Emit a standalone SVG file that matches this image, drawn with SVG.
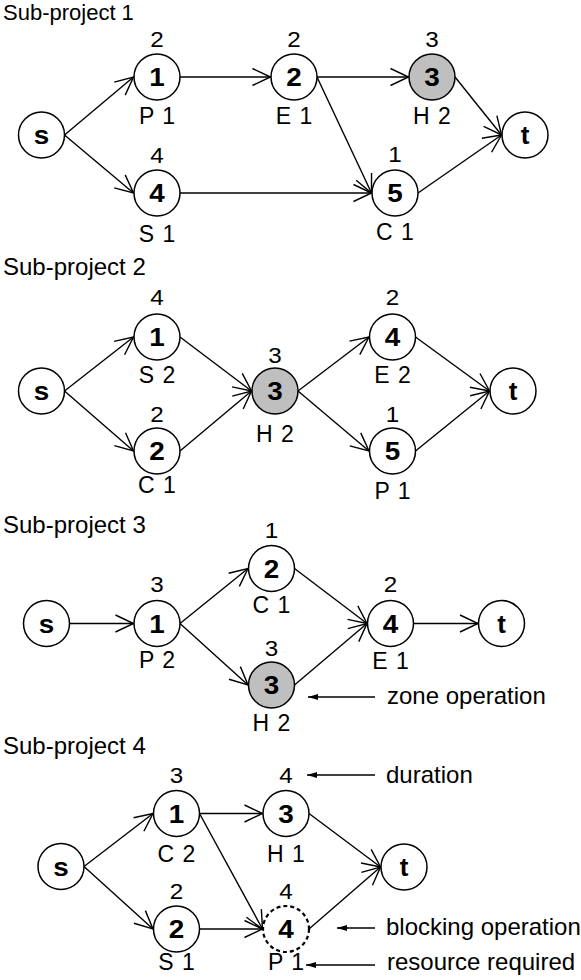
<svg xmlns="http://www.w3.org/2000/svg" width="581" height="980" viewBox="0 0 581 980">
<style>
text{font-family:"Liberation Sans",Arial,sans-serif;fill:#000}
.title{font-size:24px}
.t1{font-size:22px}
.num{font-size:26px;font-weight:bold;text-anchor:middle}
.dur{font-size:22px;text-anchor:middle}
.lab{font-size:23px;text-anchor:middle;word-spacing:2px}
.ann{font-size:24px}
circle{fill:#fff;stroke:#000;stroke-width:1.5}
circle.zone{fill:#bfbfbf}
circle.block{stroke-dasharray:4 3;stroke-width:2.2}
.edges line{stroke:#000;stroke-width:1.4;fill:none;marker-end:url(#open)}
.ann-arrows line{stroke:#000;stroke-width:1.4;marker-end:url(#solid)}
</style>
<defs>
<marker id="open" markerUnits="userSpaceOnUse" viewBox="-20 -12 24 24" markerWidth="24" markerHeight="24" refX="0" refY="0" orient="auto">
<path d="M-18,-8.5 L0,0 L-18,8.5" fill="none" stroke="#000" stroke-width="1.4"/>
</marker>
<marker id="solid" markerUnits="userSpaceOnUse" viewBox="-12 -5 14 10" markerWidth="14" markerHeight="10" refX="0" refY="0" orient="auto">
<path d="M-10,-3 L0,0 L-10,3 Z" fill="#000"/>
</marker>
</defs>

<text class="t1" x="3" y="20">Sub-project 1</text>
<text class="title" x="3" y="275">Sub-project 2</text>
<text class="title" x="3" y="533">Sub-project 3</text>
<text class="title" x="3" y="754">Sub-project 4</text>

<g class="edges">
<!-- SP1 -->
<line x1="64.5" y1="135" x2="133.5" y2="77"/>
<line x1="64.5" y1="135" x2="133.5" y2="193"/>
<line x1="180" y1="77" x2="270.5" y2="77"/>
<line x1="317" y1="77" x2="408.5" y2="77"/>
<line x1="317" y1="77" x2="371.5" y2="193"/>
<line x1="180" y1="193" x2="371.5" y2="193"/>
<line x1="455" y1="77" x2="501.5" y2="135"/>
<line x1="418" y1="193" x2="501.5" y2="135"/>
<!-- SP2 -->
<line x1="64.5" y1="391" x2="133.5" y2="337"/>
<line x1="64.5" y1="391" x2="133.5" y2="451"/>
<line x1="180" y1="337" x2="251.5" y2="391"/>
<line x1="180" y1="451" x2="251.5" y2="391"/>
<line x1="298" y1="391" x2="369" y2="337"/>
<line x1="298" y1="391" x2="369" y2="451"/>
<line x1="415.5" y1="337" x2="489.5" y2="391"/>
<line x1="415.5" y1="451" x2="489.5" y2="391"/>
<!-- SP3 -->
<line x1="69.5" y1="623.5" x2="133.5" y2="623.5"/>
<line x1="180" y1="623.5" x2="248" y2="568.5"/>
<line x1="180" y1="623.5" x2="248" y2="685"/>
<line x1="294.5" y1="568.5" x2="367" y2="623.5"/>
<line x1="294.5" y1="685" x2="367" y2="623.5"/>
<line x1="413.5" y1="623.5" x2="478" y2="623.5"/>
<!-- SP4 -->
<line x1="84" y1="866.5" x2="153" y2="813.5"/>
<line x1="84" y1="866.5" x2="153" y2="929"/>
<line x1="199.5" y1="813.5" x2="262.5" y2="813.5"/>
<line x1="199.5" y1="813.5" x2="262.5" y2="929"/>
<line x1="199.5" y1="929" x2="262.5" y2="929"/>
<line x1="309" y1="813.5" x2="380.5" y2="867"/>
<line x1="309" y1="929" x2="380.5" y2="867"/>
</g>

<g class="ann-arrows">
<line x1="375" y1="697" x2="308" y2="697"/>
<line x1="375" y1="775" x2="307" y2="775"/>
<line x1="375" y1="928" x2="337" y2="928"/>
<line x1="375" y1="965" x2="306" y2="965"/>
</g>

<!-- Sub-project 1 nodes -->
<g id="sp1-s"><circle cx="41.5" cy="135" r="23"/><text class="num" x="41.5" y="144" textLength="15.5" lengthAdjust="spacingAndGlyphs">s</text></g>
<g id="sp1-n1"><circle cx="157" cy="77" r="23"/><text class="num" x="157" y="86" textLength="15.5" lengthAdjust="spacingAndGlyphs">1</text><text class="dur" x="157" y="47" textLength="13.5" lengthAdjust="spacingAndGlyphs">2</text><text class="lab" x="157" y="124">P 1</text></g>
<g id="sp1-n2"><circle cx="294" cy="77" r="23"/><text class="num" x="294" y="86" textLength="15.5" lengthAdjust="spacingAndGlyphs">2</text><text class="dur" x="294" y="47" textLength="13.5" lengthAdjust="spacingAndGlyphs">2</text><text class="lab" x="294" y="124">E 1</text></g>
<g id="sp1-n3"><circle class="zone" cx="432" cy="77" r="23"/><text class="num" x="432" y="86" textLength="15.5" lengthAdjust="spacingAndGlyphs">3</text><text class="dur" x="432" y="47" textLength="13.5" lengthAdjust="spacingAndGlyphs">3</text><text class="lab" x="432" y="124">H 2</text></g>
<g id="sp1-n4"><circle cx="157" cy="193" r="23"/><text class="num" x="157" y="202" textLength="15.5" lengthAdjust="spacingAndGlyphs">4</text><text class="dur" x="157" y="163" textLength="13.5" lengthAdjust="spacingAndGlyphs">4</text><text class="lab" x="157" y="242">S 1</text></g>
<g id="sp1-n5"><circle cx="395" cy="193" r="23"/><text class="num" x="395" y="202" textLength="15.5" lengthAdjust="spacingAndGlyphs">5</text><text class="dur" x="395" y="162" textLength="13.5" lengthAdjust="spacingAndGlyphs">1</text><text class="lab" x="395" y="240">C 1</text></g>
<g id="sp1-t"><circle cx="525" cy="135" r="23"/><text class="num" x="525" y="144">t</text></g>

<!-- Sub-project 2 nodes -->
<g id="sp2-s"><circle cx="41.5" cy="391" r="23"/><text class="num" x="41.5" y="400" textLength="15.5" lengthAdjust="spacingAndGlyphs">s</text></g>
<g id="sp2-n1"><circle cx="157" cy="337" r="23"/><text class="num" x="157" y="346" textLength="15.5" lengthAdjust="spacingAndGlyphs">1</text><text class="dur" x="157" y="305" textLength="13.5" lengthAdjust="spacingAndGlyphs">4</text><text class="lab" x="157" y="383">S 2</text></g>
<g id="sp2-n2"><circle cx="157" cy="451" r="23"/><text class="num" x="157" y="460" textLength="15.5" lengthAdjust="spacingAndGlyphs">2</text><text class="dur" x="157" y="422" textLength="13.5" lengthAdjust="spacingAndGlyphs">2</text><text class="lab" x="157" y="493">C 1</text></g>
<g id="sp2-n3"><circle class="zone" cx="275" cy="391" r="23"/><text class="num" x="275" y="400" textLength="15.5" lengthAdjust="spacingAndGlyphs">3</text><text class="dur" x="275" y="363" textLength="13.5" lengthAdjust="spacingAndGlyphs">3</text><text class="lab" x="275" y="442">H 2</text></g>
<g id="sp2-n4"><circle cx="392.5" cy="337" r="23"/><text class="num" x="392.5" y="346" textLength="15.5" lengthAdjust="spacingAndGlyphs">4</text><text class="dur" x="392.5" y="305" textLength="13.5" lengthAdjust="spacingAndGlyphs">2</text><text class="lab" x="392.5" y="383">E 2</text></g>
<g id="sp2-n5"><circle cx="392.5" cy="451" r="23"/><text class="num" x="392.5" y="460" textLength="15.5" lengthAdjust="spacingAndGlyphs">5</text><text class="dur" x="392.5" y="422" textLength="13.5" lengthAdjust="spacingAndGlyphs">1</text><text class="lab" x="392.5" y="499">P 1</text></g>
<g id="sp2-t"><circle cx="513" cy="391" r="23"/><text class="num" x="513" y="400">t</text></g>

<!-- Sub-project 3 nodes -->
<g id="sp3-s"><circle cx="46.5" cy="623.5" r="23"/><text class="num" x="46.5" y="632.5" textLength="15.5" lengthAdjust="spacingAndGlyphs">s</text></g>
<g id="sp3-n1"><circle cx="157" cy="623.5" r="23"/><text class="num" x="157" y="632.5" textLength="15.5" lengthAdjust="spacingAndGlyphs">1</text><text class="dur" x="157" y="592" textLength="13.5" lengthAdjust="spacingAndGlyphs">3</text><text class="lab" x="157" y="668">P 2</text></g>
<g id="sp3-n2"><circle cx="271.5" cy="568.5" r="23"/><text class="num" x="271.5" y="577.5" textLength="15.5" lengthAdjust="spacingAndGlyphs">2</text><text class="dur" x="271.5" y="538" textLength="13.5" lengthAdjust="spacingAndGlyphs">1</text><text class="lab" x="271.5" y="613">C 1</text></g>
<g id="sp3-n3"><circle class="zone" cx="271.5" cy="685" r="23"/><text class="num" x="271.5" y="694" textLength="15.5" lengthAdjust="spacingAndGlyphs">3</text><text class="dur" x="271.5" y="656" textLength="13.5" lengthAdjust="spacingAndGlyphs">3</text><text class="lab" x="271.5" y="731">H 2</text></g>
<g id="sp3-n4"><circle cx="390.5" cy="623.5" r="23"/><text class="num" x="390.5" y="632.5" textLength="15.5" lengthAdjust="spacingAndGlyphs">4</text><text class="dur" x="390.5" y="592" textLength="13.5" lengthAdjust="spacingAndGlyphs">2</text><text class="lab" x="390.5" y="669">E 1</text></g>
<g id="sp3-t"><circle cx="501.5" cy="623.5" r="23"/><text class="num" x="501.5" y="632.5">t</text></g>
<text class="ann" x="387" y="704">zone operation</text>

<!-- Sub-project 4 nodes -->
<g id="sp4-s"><circle cx="61" cy="866.5" r="23"/><text class="num" x="61" y="875.5" textLength="15.5" lengthAdjust="spacingAndGlyphs">s</text></g>
<g id="sp4-n1"><circle cx="176.5" cy="813.5" r="23"/><text class="num" x="176.5" y="822.5" textLength="15.5" lengthAdjust="spacingAndGlyphs">1</text><text class="dur" x="176.5" y="783" textLength="13.5" lengthAdjust="spacingAndGlyphs">3</text><text class="lab" x="176.5" y="862">C 2</text></g>
<g id="sp4-n2"><circle cx="176.5" cy="929" r="23"/><text class="num" x="176.5" y="938" textLength="15.5" lengthAdjust="spacingAndGlyphs">2</text><text class="dur" x="176.5" y="899" textLength="13.5" lengthAdjust="spacingAndGlyphs">2</text><text class="lab" x="176.5" y="970">S 1</text></g>
<g id="sp4-n3"><circle cx="286" cy="813.5" r="23"/><text class="num" x="286" y="822.5" textLength="15.5" lengthAdjust="spacingAndGlyphs">3</text><text class="dur" x="286" y="783" textLength="13.5" lengthAdjust="spacingAndGlyphs">4</text><text class="lab" x="286" y="862">H 1</text></g>
<g id="sp4-n4"><circle class="block" cx="286" cy="929" r="23"/><text class="num" x="286" y="938" textLength="15.5" lengthAdjust="spacingAndGlyphs">4</text><text class="dur" x="286" y="899" textLength="13.5" lengthAdjust="spacingAndGlyphs">4</text><text class="lab" x="286" y="970">P 1</text></g>
<g id="sp4-t"><circle cx="404" cy="867" r="23"/><text class="num" x="404" y="876">t</text></g>
<text class="ann" x="386" y="783">duration</text>
<text class="ann" x="386" y="935">blocking operation</text>
<text class="ann" x="387" y="970">resource required</text>
</svg>
